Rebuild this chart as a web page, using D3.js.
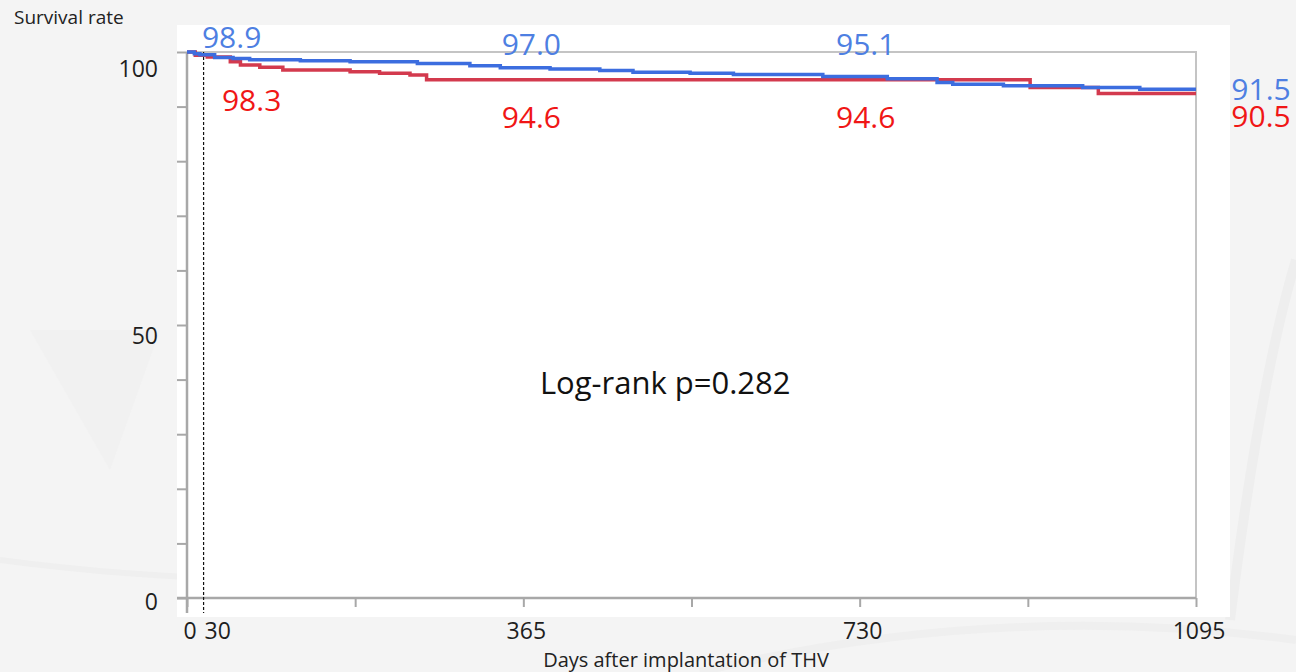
<!DOCTYPE html>
<html>
<head>
<meta charset="utf-8">
<script src="https://cdn.jsdelivr.net/npm/d3@7"></script>
<style>
  body { margin: 0; background: #f4f4f4; }
  svg { display: block; font-family: "Open Sans", "Noto Sans", sans-serif; }
</style>
</head>
<body>
<div id="chart"></div>
<script>
// Kaplan-Meier step points: [day, survival %]
var blueSteps = [[0, 100], [8, 99.7], [14, 99.5], [30, 99.0], [50, 98.8], [68, 98.6], [123, 98.4],
  [177, 98.2], [250, 97.9], [307, 97.5], [340, 97.1], [394, 96.9], [448, 96.6], [484, 96.3],
  [546, 96.1], [593, 95.9], [690, 95.5], [760, 95.1], [814, 94.4], [831, 94.1], [886, 93.8],
  [972, 93.5], [1034, 93.2], [1095, 93.2]];
var redSteps = [[0, 100], [9, 99.4], [22, 99.1], [47, 98.2], [58, 97.6], [79, 97.2], [104, 96.7],
  [177, 96.4], [209, 96.1], [242, 95.8], [260, 94.9], [915, 93.5], [989, 92.4], [1095, 92.4]];

var labelDays = [30, 365, 730, 1095];
var blueLabels = ['98.9', '97.0', '95.1', '91.5'];
var redLabels = ['98.3', '94.6', '94.6', '90.5'];

var xTickLabels = [0, 30, 365, 730, 1095];
var xMinorTicks = [0, 182.5, 365, 547.5, 730, 912.5, 1095];
var yTicks = [0, 10, 20, 30, 40, 50, 60, 70, 80, 90, 100];
var yTickLabels = [0, 50, 100];
var markDay = 18;   // dashed marker, where the picture draws it

// label layout (pixel nudges relative to the scale position)
var blueDx = [17, 8, 6, 65], blueBase = [48, 55, 55, 100];
var redDx = [37, 8, 6, 65], redBase = [111, 128, 128, 127];

var W = 1296, H = 672;
var margins = {left: 187, top: 52, right: 100, bottom: 74},
  w = W - margins.left - margins.right,
  h = H - margins.top - margins.bottom;

var svg = d3.select('#chart').append('svg')
  .attr('width', W).attr('height', H);

// faint watermark background
var bg = svg.append('g');
bg.append('rect').attr('width', W).attr('height', H).attr('fill', '#f4f4f4');
bg.append('path').attr('d', 'M30,330 L110,470 L160,330 Z').attr('fill', '#f1f1f1');
bg.append('path').attr('d', 'M0,560 Q300,600 640,560').attr('fill', 'none').attr('stroke', '#efefef').attr('stroke-width', 6);
bg.append('path').attr('d', 'M1230,620 Q1260,380 1296,260').attr('fill', 'none').attr('stroke', '#eeeeee').attr('stroke-width', 10);
bg.append('path').attr('d', 'M700,672 Q1000,600 1296,640').attr('fill', 'none').attr('stroke', '#efefef').attr('stroke-width', 8);

// white panel behind the plot
svg.append('rect')
  .attr('x', margins.left - 10).attr('y', 25)
  .attr('width', w + 44).attr('height', h + 19 + 27)
  .attr('fill', '#ffffff');

var g = svg.append('g')
  .attr('transform', 'translate(' + margins.left + ',' + margins.top + ')');

var xScale = d3.scaleLinear().domain([0, 1095]).range([0, w]);
var yScale = d3.scaleLinear().domain([0, 100]).range([h, 0]);
// tick labels in the picture sit on a slightly squeezed scale
var yLabelScale = d3.scaleLinear().domain([0, 100]).range([h + 12, 25]);

// frame: top and right
g.append('path')
  .attr('d', 'M0,' + yScale(100) + 'H' + xScale(1095) + 'V' + yScale(0))
  .attr('fill', 'none').attr('stroke', '#c4c4c4').attr('stroke-width', 2);

// axes
var axisColor = '#a8a8a8';
g.append('g')
  .attr('class', 'axis y-axis')
  .call(d3.axisLeft(yScale).tickValues(yTicks).tickSize(10).tickSizeOuter(0).tickFormat(''))
  .call(function(a) {
    a.select('.domain').remove();
    a.selectAll('line').attr('stroke', axisColor).attr('stroke-width', 2);
  });
g.append('g')
  .attr('class', 'axis x-axis')
  .attr('transform', 'translate(0,' + h + ')')
  .call(d3.axisBottom(xScale).tickValues(xMinorTicks).tickSize(9).tickSizeOuter(0).tickFormat(''))
  .call(function(a) {
    a.select('.domain').remove();
    a.selectAll('line').attr('stroke', axisColor).attr('stroke-width', 2);
  });
g.append('line')
  .attr('x1', 0).attr('x2', 0).attr('y1', yScale(100)).attr('y2', yScale(0) + 15)
  .attr('stroke', axisColor).attr('stroke-width', 2.5);
g.append('line')
  .attr('x1', -10).attr('x2', xScale(1095)).attr('y1', yScale(0)).attr('y2', yScale(0))
  .attr('stroke', axisColor).attr('stroke-width', 2.5);

g.selectAll('.ylab')
  .data(yTickLabels)
  .enter().append('text')
  .attr('class', 'ylab')
  .attr('x', -29)
  .attr('y', function(d) { return yLabelScale(d); })
  .attr('text-anchor', 'end')
  .attr('font-size', 23).attr('fill', '#1e1e1e')
  .text(function(d) { return d; });

g.selectAll('.xlab')
  .data(xTickLabels)
  .enter().append('text')
  .attr('class', 'xlab')
  .attr('x', function(d) { return xScale(d) + 3; })
  .attr('y', h + 41)
  .attr('text-anchor', 'middle')
  .attr('font-size', 23).attr('fill', '#1e1e1e')
  .text(function(d) { return d; });

// 30-day marker
g.append('line')
  .attr('x1', xScale(markDay)).attr('x2', xScale(markDay))
  .attr('y1', yScale(100)).attr('y2', yScale(0) + 15)
  .attr('stroke', '#111').attr('stroke-width', 1.2)
  .attr('stroke-dasharray', '3,2');

// survival curves
var line = d3.line()
  .curve(d3.curveStepAfter)
  .x(function(d) { return xScale(d[0]); })
  .y(function(d) { return yScale(d[1]); });

g.append('path').datum(redSteps)
  .attr('d', line).attr('fill', 'none')
  .attr('stroke', '#d33a4e').attr('stroke-width', 3.5);
g.append('path').datum(blueSteps)
  .attr('d', line).attr('fill', 'none')
  .attr('stroke', '#3c6ddf').attr('stroke-width', 3.5);

// value annotations
g.selectAll('.blab')
  .data(blueLabels)
  .enter().append('text')
  .attr('class', 'blab')
  .attr('x', function(d, i) { return xScale(labelDays[i]) + blueDx[i]; })
  .attr('y', function(d, i) { return blueBase[i] - margins.top; })
  .attr('text-anchor', 'middle')
  .attr('font-size', 30).attr('fill', '#4e7fe2')
  .text(function(d) { return d; });
g.selectAll('.rlab')
  .data(redLabels)
  .enter().append('text')
  .attr('class', 'rlab')
  .attr('x', function(d, i) { return xScale(labelDays[i]) + redDx[i]; })
  .attr('y', function(d, i) { return redBase[i] - margins.top; })
  .attr('text-anchor', 'middle')
  .attr('font-size', 30).attr('fill', '#f01616')
  .text(function(d) { return d; });

g.append('text')
  .attr('x', xScale(519)).attr('y', 394 - margins.top)
  .attr('text-anchor', 'middle')
  .attr('font-size', 31).attr('fill', '#111')
  .text('Log-rank p=0.282');

svg.append('text')
  .attr('x', 14).attr('y', 24)
  .attr('font-size', 19).attr('fill', '#222')
  .text('Survival rate');

svg.append('text')
  .attr('x', 686).attr('y', 667)
  .attr('text-anchor', 'middle')
  .attr('font-size', 20).attr('fill', '#222')
  .text('Days after implantation of THV');
</script>
</body>
</html>
